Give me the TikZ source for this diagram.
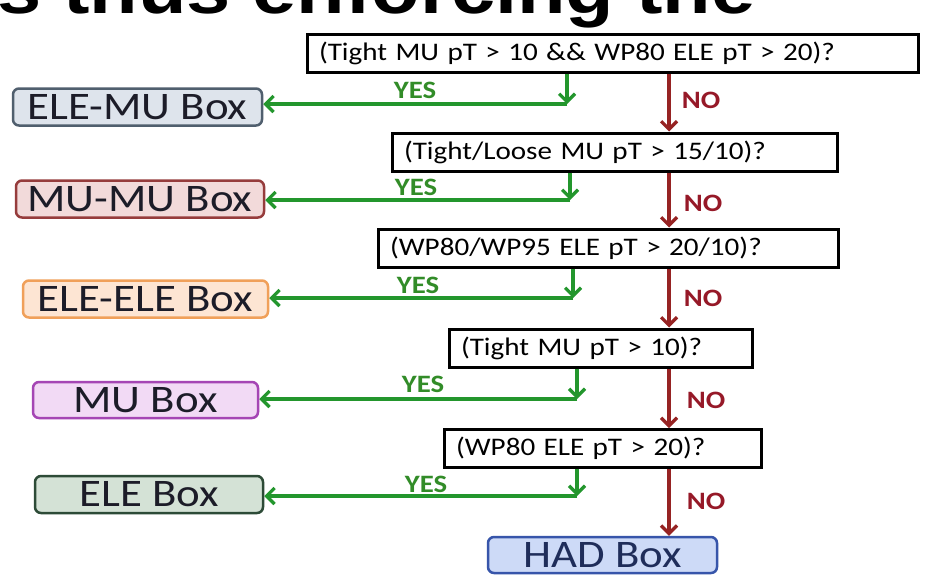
\documentclass[tikz,border=0pt]{standalone}
\usepackage{fontspec}
\setmainfont{Carlito}[FakeStretch=1.15]
\newfontfamily\headfont{Liberation Sans}[FakeStretch=1.15]
\usepackage{xcolor}
\usetikzlibrary{arrows.meta}

\definecolor{yesgreen}{RGB}{35,150,45}
\definecolor{yestext}{RGB}{50,140,40}
\definecolor{nored}{RGB}{150,35,35}
\definecolor{notext}{RGB}{150,25,40}
\definecolor{boxtext}{RGB}{28,28,40}
\definecolor{elemufill}{RGB}{222,228,236}
\definecolor{elemudraw}{RGB}{80,95,110}
\definecolor{mumufill}{RGB}{242,218,218}
\definecolor{mumudraw}{RGB}{150,60,60}
\definecolor{eleelefill}{RGB}{253,229,211}
\definecolor{eleeledraw}{RGB}{240,160,90}
\definecolor{mufill}{RGB}{242,218,245}
\definecolor{mudraw}{RGB}{165,70,180}
\definecolor{elefill}{RGB}{212,226,214}
\definecolor{eledraw}{RGB}{45,75,55}
\definecolor{hadfill}{RGB}{205,218,247}
\definecolor{haddraw}{RGB}{55,85,170}
\definecolor{hadtext}{RGB}{31,45,90}

\begin{document}
\begin{tikzpicture}[
    x=1pt, y=-1pt,
    cond node/.style={rectangle,draw=black,line width=3pt,fill=white,
        minimum height=38pt,inner xsep=12pt,inner ysep=2pt,align=left,
        text width=#1,font=\fontsize{25.3}{27}\selectfont},
    cat node/.style={rectangle,rounded corners=6pt,line width=2.5pt,
        minimum height=37pt,inner sep=0pt,text=boxtext,
        font=\fontsize{39}{40}\selectfont},
    yes arrow/.style={-{Straight Barb[length=8pt,width=16pt]},draw=yesgreen,line width=3.2pt},
    no arrow/.style={-{Straight Barb[length=8pt,width=16pt]},draw=nored,line width=3.2pt},
    yes label/.style={text=yestext,font=\bfseries\fontsize{25}{26}\selectfont,inner sep=0pt},
    no label/.style={text=notext,font=\bfseries\fontsize{25}{26}\selectfont,inner sep=0pt}
]
\useasboundingbox[fill=white] (0,0) rectangle (939,582);

% slide heading, cut at the top
\begin{scope}
\clip (0,0) rectangle (939,582);
\node[anchor=base west,inner sep=0pt,font=\headfont\bfseries\fontsize{69}{69}\selectfont] (heading) at (-3,13) {s thus enforcing the};
\end{scope}

% selections
\node[cond node=587pt] (q1) at (612.5,53.5) {(Tight MU pT > 10 \&\& WP80 ELE pT > 20)?};
\node[cond node=421pt] (q2) at (614.5,152) {(Tight/Loose MU pT > 15/10)?};
\node[cond node=436pt] (q3) at (608,248) {(WP80/WP95 ELE pT > 20/10)?};
\node[cond node=279pt] (q4) at (600.5,348) {(Tight MU pT > 10)?};
\node[cond node=293pt] (q5) at (602.5,448.5) {(WP80 ELE pT > 20)?};

% categories
\node[cat node,fill=elemufill,draw=elemudraw,minimum width=249pt] (elemu) at (137.5,107) {ELE-MU Box};
\node[cat node,fill=mumufill,draw=mumudraw,minimum width=248pt] (mumu) at (140,199) {MU-MU Box};
\node[cat node,fill=eleelefill,draw=eleeledraw,minimum width=245pt] (eleele) at (145.5,299) {ELE-ELE Box};
\node[cat node,fill=mufill,draw=mudraw,minimum width=225pt,minimum height=36pt] (mu) at (145.5,400) {MU Box};
\node[cat node,fill=elefill,draw=eledraw,minimum width=228pt] (ele) at (149,494.5) {ELE Box};
\node[cat node,fill=hadfill,draw=haddraw,text=hadtext,minimum width=229pt,minimum height=36pt] (had) at (602.5,555) {HAD Box};

% corners of the YES branches and the NO spine
\coordinate (y1) at (567,104);
\coordinate (y2) at (570,200);
\coordinate (y3) at (573,298);
\coordinate (y4) at (577,399);
\coordinate (y5) at (577,496);
\coordinate (spine) at (669,0);

\draw[yes arrow] (q1.south -| y1) -- (y1);
\draw[yes arrow] (y1) -- (y1 -| elemu.east);
\draw[yes arrow] (q2.south -| y2) -- (y2);
\draw[yes arrow] (y2) -- (y2 -| mumu.east);
\draw[yes arrow] (q3.south -| y3) -- (y3);
\draw[yes arrow] (y3) -- (y3 -| eleele.east);
\draw[yes arrow] (q4.south -| y4) -- (y4);
\draw[yes arrow] (y4) -- (y4 -| mu.east);
\draw[yes arrow] (q5.south -| y5) -- (y5);
\draw[yes arrow] (y5) -- (y5 -| ele.east);

\draw[no arrow] (q1.south -| spine) -- (q2.north -| spine);
\draw[no arrow] (q2.south -| spine) -- (q3.north -| spine);
\draw[no arrow] (q3.south -| spine) -- (q4.north -| spine);
\draw[no arrow] (q4.south -| spine) -- (q5.north -| spine);
\draw[no arrow] (q5.south -| spine) -- (had.north -| spine);

\node[yes label] (yes1) at (415,90) {YES};
\node[yes label] (yes2) at (416,187) {YES};
\node[yes label] (yes3) at (418,285) {YES};
\node[yes label] (yes4) at (423,384) {YES};
\node[yes label] (yes5) at (426,484) {YES};

\node[no label] (no1) at (701,100) {NO};
\node[no label] (no2) at (703,203) {NO};
\node[no label] (no3) at (703,298) {NO};
\node[no label] (no4) at (706,400) {NO};
\node[no label] (no5) at (706,501) {NO};

\end{tikzpicture}
\end{document}
